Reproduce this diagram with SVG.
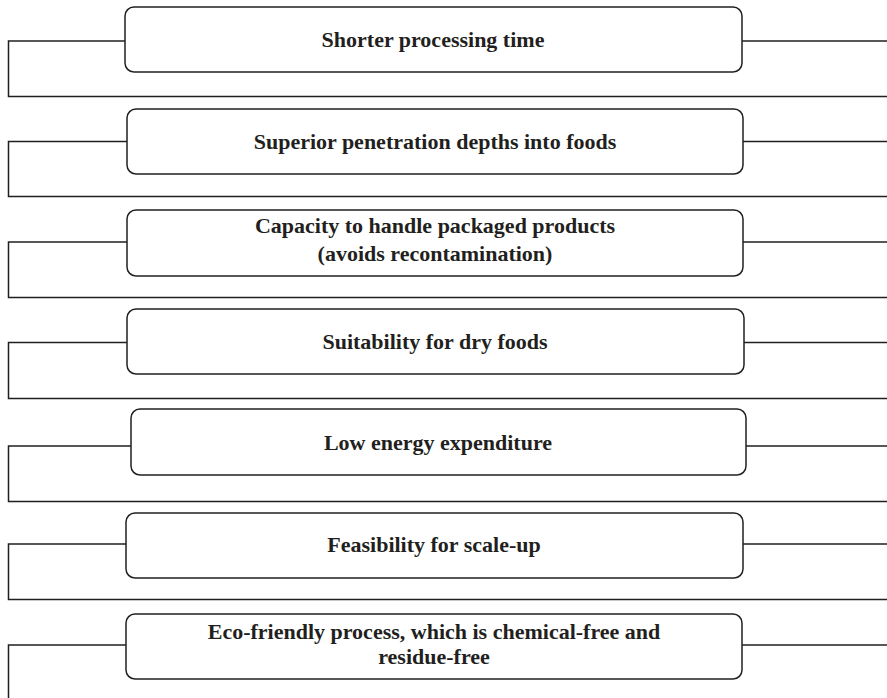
<svg xmlns="http://www.w3.org/2000/svg" width="887" height="698" viewBox="0 0 887 698">
  <style>
    .box { fill: #ffffff; stroke: #231f20; stroke-width: 1.5; }
    .wire { fill: none; stroke: #231f20; stroke-width: 1.5; }
    .label { font-family: "Liberation Serif", "Times New Roman", serif; font-weight: bold; font-size: 22px; fill: #231f20; text-anchor: middle; }
  </style>
  <rect width="887" height="698" fill="#ffffff"/>

  <!-- bracket lines: left stub, vertical drop, bottom rule, right stub -->
  <g id="connectors">
    <path class="wire" d="M125,41 H8.5 V96.5 H887 M742,41 H887"/>
    <path class="wire" d="M127,141.5 H8.5 V196.5 H887 M743,141.5 H887"/>
    <path class="wire" d="M127,242 H8.5 V297.5 H887 M743,242 H887"/>
    <path class="wire" d="M127,342.5 H8.5 V398.5 H887 M744,342.5 H887"/>
    <path class="wire" d="M131,446 H8.5 V501.5 H887 M746,446 H887"/>
    <path class="wire" d="M126,544 H8.5 V599.5 H887 M743,544 H887"/>
    <path class="wire" d="M126,645 H8.5 V698 M742,645 H887"/>
  </g>

  <g id="node1">
    <rect class="box" x="125" y="7" width="617" height="65" rx="9"/>
    <text class="label" x="433" y="47">Shorter processing time</text>
  </g>
  <g id="node2">
    <rect class="box" x="127" y="109" width="616" height="65" rx="9"/>
    <text class="label" x="435" y="149">Superior penetration depths into foods</text>
  </g>
  <g id="node3">
    <rect class="box" x="127" y="210" width="616" height="66" rx="9"/>
    <text class="label" x="435" y="233">Capacity to handle packaged products</text>
    <text class="label" x="435" y="261">(avoids recontamination)</text>
  </g>
  <g id="node4">
    <rect class="box" x="127" y="309" width="617" height="65" rx="9"/>
    <text class="label" x="435" y="349">Suitability for dry foods</text>
  </g>
  <g id="node5">
    <rect class="box" x="131" y="409" width="615" height="66" rx="9"/>
    <text class="label" x="438" y="450">Low energy expenditure</text>
  </g>
  <g id="node6">
    <rect class="box" x="126" y="513" width="617" height="65" rx="9"/>
    <text class="label" x="434" y="552">Feasibility for scale-up</text>
  </g>
  <g id="node7">
    <rect class="box" x="126" y="614" width="616" height="65" rx="9"/>
    <text class="label" x="434" y="639">Eco-friendly process, which is chemical-free and</text>
    <text class="label" x="434" y="664">residue-free</text>
  </g>
</svg>
